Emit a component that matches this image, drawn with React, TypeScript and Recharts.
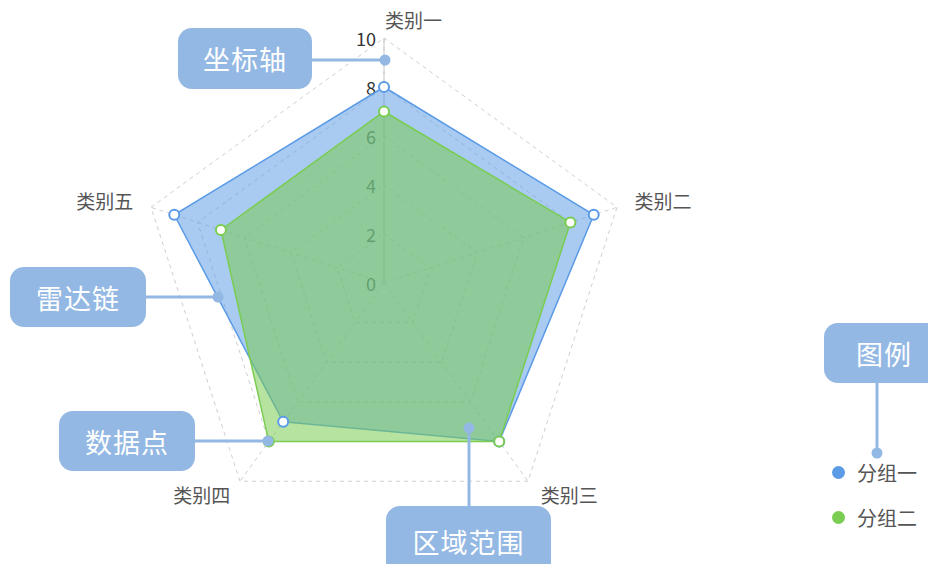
import { RadarChart, Radar, PolarGrid, PolarAngleAxis, PolarRadiusAxis, Legend } from "recharts";

const categories = ["类别一", "类别二", "类别三", "类别四", "类别五"];
const group1 = [8, 9, 8, 7, 9];
const group2 = [7, 8, 8, 8, 7];
const seriesNames = ["分组一", "分组二"];
const radiusTicks = [0, 2, 4, 6, 8, 10];

const data = categories.map((name, i) => ({ name, g1: group1[i], g2: group2[i] }));

const FONT = '"Noto Sans CJK SC", "Noto Sans", sans-serif';
const BLUE = "#5b9be6";
const GREEN = "#7acc52";
const CALLOUT = "#93b8e3";

const W = 928;
const H = 564;
const CX = 384;
const CY = 283;
const R = 245;

// nudges for the category labels, by index
const labelShift = [
  { dx: 1, dy: -11, anchor: "start" },
  { dx: 10, dy: -4 },
  { dx: 8, dy: 7 },
  { dx: -5, dy: 7 },
  { dx: -10, dy: -4 },
];

function AngleTick(props: any) {
  const { x, y, payload, index, textAnchor } = props;
  const s = labelShift[index] || { dx: 0, dy: 0 };
  return (
    <text
      x={x + s.dx}
      y={y + s.dy}
      textAnchor={(s as any).anchor || textAnchor}
      dominantBaseline="central"
      fontSize={19}
      fill="#555"
      fontFamily={FONT}
    >
      {payload.value}
    </text>
  );
}

function RadiusTick(props: any) {
  const { x, y, payload } = props;
  return (
    <text x={x - 8} y={y} textAnchor="end" dominantBaseline="central" fontSize={18} fill="#333" fontFamily={FONT}>
      {payload.value}
    </text>
  );
}

function LegendContent(props: any) {
  const { payload } = props;
  return (
    <div style={{ fontFamily: FONT }}>
      {(payload || []).map((p: any) => (
        <div key={p.value} style={{ display: "flex", alignItems: "center", height: 45 }}>
          <span
            style={{ width: 13, height: 13, borderRadius: "50%", background: p.color, display: "inline-block", marginRight: 12 }}
          />
          <span style={{ fontSize: 20, color: "#555" }}>{p.value}</span>
        </div>
      ))}
    </div>
  );
}

function Callout({ x, y, w, h, text }: { x: number; y: number; w: number; h: number; text: string }) {
  return (
    <div
      style={{
        position: "absolute",
        left: x,
        top: y,
        width: w,
        height: h,
        background: CALLOUT,
        borderRadius: 14,
        color: "#fff",
        fontFamily: FONT,
        fontSize: 27,
        display: "flex",
        alignItems: "center",
        justifyContent: "center",
        letterSpacing: 1,
      }}
    >
      {text}
    </div>
  );
}

const layer: any = { position: "absolute", left: 0, top: 0 };

export default function App() {
  return (
    <div style={{ position: "absolute", left: 0, top: 0, width: W, height: H, background: "#fff", overflow: "hidden" }}>
      {/* grid and axes, underneath the areas */}
      <div style={layer}>
        <RadarChart width={W} height={H} data={data} cx={CX} cy={CY} outerRadius={R} margin={{ top: 0, right: 0, bottom: 0, left: 0 }}>
          <PolarGrid gridType="polygon" stroke="#cfcfcf" strokeDasharray="4 4" polarRadius={[49, 98, 147, 196, 245]} />
          <PolarAngleAxis dataKey="name" axisLine={false} tickLine={false} tick={AngleTick} />
          <PolarRadiusAxis
            angle={90}
            domain={[0, 10]}
            ticks={radiusTicks as any}
            axisLine={{ stroke: "#c8c8c8" }}
            tickLine={false}
            tick={RadiusTick}
          />
          {/* invisible copies so the radius axis has series to scale */}
          <Radar dataKey="g1" stroke="none" fill="none" dot={false} legendType="none" isAnimationActive={false} />
          <Radar dataKey="g2" stroke="none" fill="none" dot={false} legendType="none" isAnimationActive={false} />
        </RadarChart>
      </div>

      {/* series on top */}
      <div style={layer}>
        <RadarChart width={W} height={H} data={data} cx={CX} cy={CY} outerRadius={R} margin={{ top: 0, right: 0, bottom: 0, left: 0 }}>
          <PolarAngleAxis dataKey="name" axisLine={false} tickLine={false} tick={false} />
          <PolarRadiusAxis angle={90} domain={[0, 10]} axisLine={false} tickLine={false} tick={false} />
          <Radar
            name={seriesNames[0]}
            dataKey="g1"
            stroke={BLUE}
            strokeWidth={1.5}
            fill={BLUE}
            fillOpacity={0.52}
            dot={{ r: 5, fill: "#fff", stroke: BLUE, strokeWidth: 2, fillOpacity: 1 }}
            isAnimationActive={false}
          />
          <Radar
            name={seriesNames[1]}
            dataKey="g2"
            stroke={GREEN}
            strokeWidth={1.5}
            fill={GREEN}
            fillOpacity={0.55}
            dot={{ r: 5, fill: "#fff", stroke: GREEN, strokeWidth: 2, fillOpacity: 1 }}
            isAnimationActive={false}
          />
          <Legend
            layout="vertical"
            content={LegendContent}
            wrapperStyle={{ position: "absolute", left: 832, top: 450, width: 100 }}
          />
        </RadarChart>
      </div>

      <svg width={W} height={H} style={{ position: "absolute", left: 0, top: 0, pointerEvents: "none" }}>
        <g stroke={CALLOUT} strokeWidth={3} fill={CALLOUT}>
          <line x1={310} y1={60} x2={385} y2={60} />
          <circle cx={385} cy={60} r={5.5} stroke="none" />
          <line x1={145} y1={297} x2={218} y2={297} />
          <circle cx={218} cy={297} r={5.5} stroke="none" />
          <line x1={195} y1={441} x2={268} y2={441} />
          <circle cx={268} cy={441} r={5.5} stroke="none" />
          <line x1={469} y1={506} x2={469} y2={428} />
          <circle cx={469} cy={428} r={5.5} stroke="none" />
          <line x1={877} y1={382} x2={877} y2={453} />
          <circle cx={877} cy={453} r={5.5} stroke="none" />
        </g>
      </svg>

      <Callout x={178} y={28} w={134} h={61} text="坐标轴" />
      <Callout x={10} y={267} w={136} h={60} text="雷达链" />
      <Callout x={59} y={411} w={136} h={60} text="数据点" />
      <Callout x={386} y={506} w={165} h={70} text="区域范围" />
      <Callout x={824} y={323} w={120} h={60} text="图例" />
    </div>
  );
}
